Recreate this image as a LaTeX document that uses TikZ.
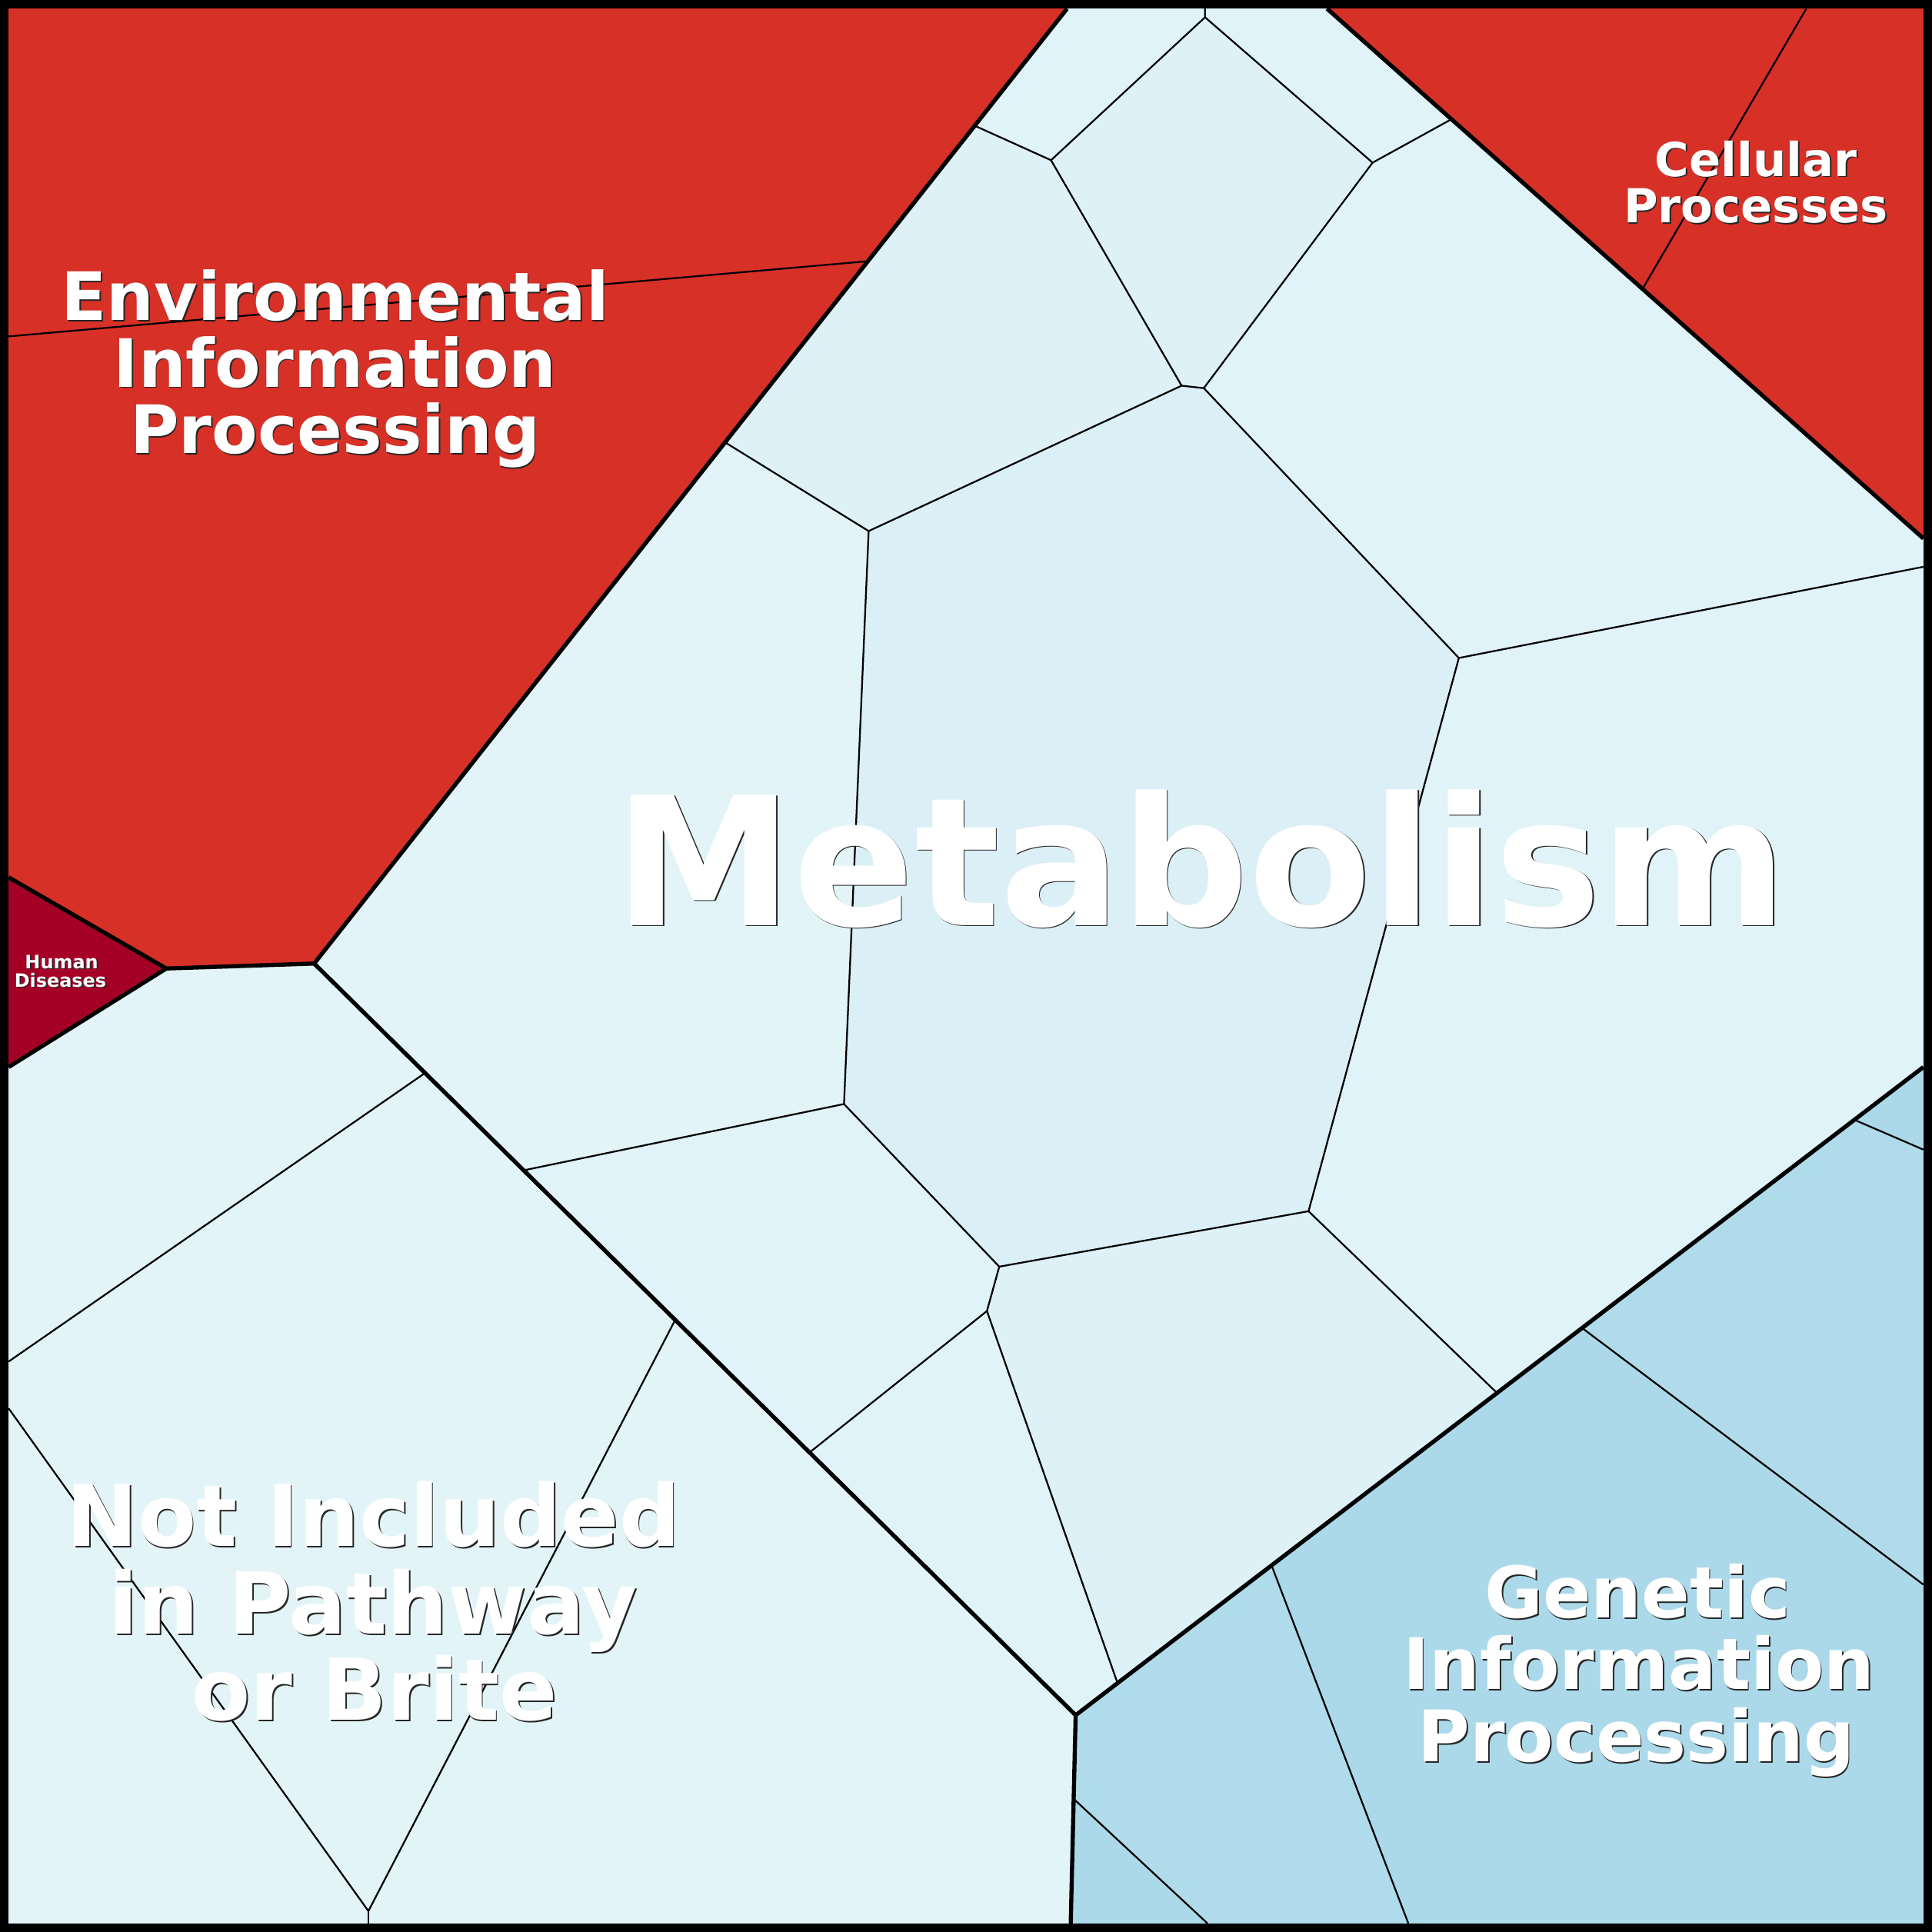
\documentclass[tikz,border=0pt]{standalone}
\usetikzlibrary{calc}
\usepackage{fontspec}
\setmainfont{DejaVu Sans}
\definecolor{redcat}{HTML}{D73027}
\definecolor{darkred}{HTML}{A50026}
\definecolor{cyanA}{HTML}{E0F3F8}
\definecolor{cyanB}{HTML}{DEF1F7}
\definecolor{cyanC}{HTML}{DBEFF6}
\definecolor{cyanD}{HTML}{E2F4F8}
\definecolor{blueA}{HTML}{ABD9E9}
\definecolor{blueB}{HTML}{B0DBEA}
\newcommand\shd[1]{\makebox[0pt][l]{\kern0.3pt\raisebox{-0.3pt}{\color{black!85}#1}}#1}
\begin{document}
\begin{tikzpicture}[x=0.01cm,y=-0.01cm,
  thinedge/.style={line width=0.4pt,line join=round},
  thickedge/.style={line width=0.95pt,line join=round},
  lbl/.style={text=white,inner sep=0pt,anchor=base}]
\useasboundingbox (0,0) rectangle (1568,1568);
% ---- coordinates
\coordinate (T1) at (866,7);
\coordinate (T2) at (978,7);
\coordinate (T3) at (1077,7);
\coordinate (T4) at (1466,7);
\coordinate (R1) at (1561,437);
\coordinate (R2) at (1561,460);
\coordinate (R3) at (1561,866);
\coordinate (R4) at (1561,933);
\coordinate (R5) at (1561,1286);
\coordinate (B1) at (299,1561);
\coordinate (B2) at (869,1561);
\coordinate (B3) at (980,1561);
\coordinate (B4) at (1143,1561);
\coordinate (L1) at (7,273);
\coordinate (L2) at (7,712);
\coordinate (L3) at (7,866);
\coordinate (L4) at (7,1105);
\coordinate (L5) at (7,1143);
\coordinate (u) at (135,786);
\coordinate (v) at (255,782);
\coordinate (z) at (873,1392);
\coordinate (a) at (978,14);
\coordinate (b) at (853,130);
\coordinate (d) at (1114,132);
\coordinate (f) at (959,313);
\coordinate (g) at (977,315);
\coordinate (h) at (705,431);
\coordinate (j) at (1184,534);
\coordinate (k) at (685,896);
\coordinate (m) at (811,1028);
\coordinate (n) at (1062,983);
\coordinate (o) at (801,1064);
\coordinate (x) at (299,1551);
\coordinate (c) at ($(T1)!0.1226!(v)$);
\coordinate (i) at ($(T1)!0.4542!(v)$);
\coordinate (s) at ($(T1)!0.2645!(v)$);
\coordinate (e) at ($(T3)!0.2087!(R1)$);
\coordinate (t) at ($(T3)!0.529!(R1)$);
\coordinate (l) at ($(v)!0.2751!(z)$);
\coordinate (p) at ($(v)!0.6505!(z)$);
\coordinate (w) at ($(v)!0.1456!(z)$);
\coordinate (y) at ($(v)!0.4741!(z)$);
\coordinate (q) at ($(z)!0.0494!(R3)$);
\coordinate (r) at ($(z)!0.4971!(R3)$);
\coordinate (g3) at ($(z)!0.2311!(R3)$);
\coordinate (g2) at ($(z)!0.5974!(R3)$);
\coordinate (g1) at ($(z)!0.9186!(R3)$);
\coordinate (g4) at ($(z)!0.402!(B2)$);
% ---- fills
\fill[cyanA] (0,0) rectangle (1568,1568);
\fill[cyanD] (0,866) -- (L3) -- (u) -- (v) -- (z) -- (B2) -- (869,1568) -- (0,1568) -- cycle;
\fill[cyanB] (a) -- (d) -- (g) -- (f) -- (b) -- cycle;
\fill[cyanB] (c) -- (b) -- (f) -- (h) -- (i) -- cycle;
\fill[cyanC] (h) -- (f) -- (g) -- (j) -- (n) -- (m) -- (k) -- cycle;
\fill[cyanB] (m) -- (n) -- (r) -- (q) -- (o) -- cycle;
\fill[cyanD] (i) -- (h) -- (k) -- (l) -- (v) -- cycle;
\fill[redcat] (0,0) -- (872,0) -- (T1) -- (v) -- (u) -- (L2) -- (0,712) -- cycle;
\fill[darkred] (0,712) -- (L2) -- (u) -- (L3) -- (0,866) -- cycle;
\fill[redcat] (1071,0) -- (1568,0) -- (1568,437) -- (R1) -- (T3) -- cycle;
\fill[blueA] (z) -- (R3) -- (1568,866) -- (1568,1568) -- (869,1568) -- (B2) -- cycle;
\fill[blueB] (g1) -- (g2) -- (R5) -- (R4) -- cycle;
\fill[blueB] (z) -- (g3) -- (B4) -- (B3) -- (g4) -- cycle;
% ---- thin edges
\draw[thinedge] (T2) -- (a) -- (b) -- (c);
\draw[thinedge] (a) -- (d) -- (e);
\draw[thinedge] (b) -- (f) -- (g) -- (d);
\draw[thinedge] (f) -- (h) -- (i);
\draw[thinedge] (g) -- (j) -- (R2);
\draw[thinedge] (h) -- (k) -- (l);
\draw[thinedge] (j) -- (n);
\draw[thinedge] (k) -- (m) -- (n) -- (r);
\draw[thinedge] (m) -- (o) -- (p);
\draw[thinedge] (o) -- (q);
\draw[thinedge] (L1) -- (s);
\draw[thinedge] (T4) -- (t);
\draw[thinedge] (L4) -- (w);
\draw[thinedge] (L5) -- (x) -- (y);
\draw[thinedge] (x) -- (B1);
\draw[thinedge] (g1) -- (R4);
\draw[thinedge] (g2) -- (R5);
\draw[thinedge] (g3) -- (B4);
\draw[thinedge] (g4) -- (B3);
% ---- thick edges
\draw[thickedge] (T1) -- (v) -- (z) -- (R3);
\draw[thickedge] (v) -- (u);
\draw[thickedge] (L2) -- (u) -- (L3);
\draw[thickedge] (T3) -- (R1);
\draw[thickedge] (z) -- (B2);
% ---- border
\draw[line width=2pt] (3.5,3.5) rectangle (1564.5,1564.5);
% ---- labels
\node[lbl,font=\bfseries\fontsize{41.3}{41.3}\selectfont] (met) at (975,751) {\shd{Metabolism}};
\node[lbl,font=\bfseries\fontsize{15.4}{15.4}\selectfont] (env1) at (272,260) {\shd{Environmental}};
\node[lbl,font=\bfseries\fontsize{15.4}{15.4}\selectfont] (env2) at (272,314) {\shd{Information}};
\node[lbl,font=\bfseries\fontsize{15.4}{15.4}\selectfont] (env3) at (272,368) {\shd{Processing}};
\node[lbl,font=\bfseries\fontsize{10.8}{10.8}\selectfont] (cel1) at (1425,143) {\shd{Cellular}};
\node[lbl,font=\bfseries\fontsize{10.8}{10.8}\selectfont] (cel2) at (1425,181) {\shd{Processes}};
\node[lbl,font=\bfseries\fontsize{19.7}{19.7}\selectfont] (ni1) at (303,1255) {\shd{Not Included}};
\node[lbl,font=\bfseries\fontsize{19.7}{19.7}\selectfont] (ni2) at (303,1326) {\shd{in Pathway}};
\node[lbl,font=\bfseries\fontsize{19.7}{19.7}\selectfont] (ni3) at (304,1396) {\shd{or Brite}};
\node[lbl,font=\bfseries\fontsize{16.4}{16.4}\selectfont] (gen1) at (1329,1313) {\shd{Genetic}};
\node[lbl,font=\bfseries\fontsize{16.4}{16.4}\selectfont] (gen2) at (1330,1371) {\shd{Information}};
\node[lbl,font=\bfseries\fontsize{16.4}{16.4}\selectfont] (gen3) at (1328,1430) {\shd{Processing}};
\node[lbl,font=\bfseries\fontsize{4.25}{4.25}\selectfont] (hd1) at (50,786) {\shd{Human}};
\node[lbl,font=\bfseries\fontsize{4.25}{4.25}\selectfont] (hd2) at (49,801) {\shd{Diseases}};
\end{tikzpicture}
\end{document}
